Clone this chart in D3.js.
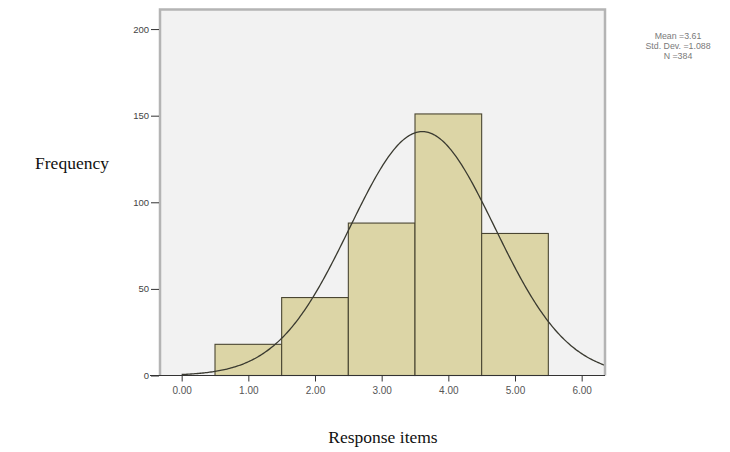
<!DOCTYPE html>
<html>
<head>
<meta charset="utf-8">
<script src="https://cdn.jsdelivr.net/npm/d3@7"></script>
<style>
  html, body { margin: 0; padding: 0; background: #ffffff; }
  svg { display: block; }
</style>
</head>
<body>
<svg id="chart" width="730" height="452"></svg>
<script>
// ---- data ----
const binCenters = [1, 2, 3, 4, 5];
const binWidth = 1;
const counts = [18, 45, 88, 151, 82];
const xTickValues = [0, 1, 2, 3, 4, 5, 6];
const xTickLabels = ["0.00", "1.00", "2.00", "3.00", "4.00", "5.00", "6.00"];
const yTickValues = [0, 50, 100, 150, 200];
const statLines = ["Mean =3.61", "Std. Dev. =1.088", "N =384"];
const meanValue = 3.61;
const sdValue = 1.088;
const nValue = 384;

// ---- layout ----
const svg = d3.select("#chart");
const pLeft = 160, pRight = 605, pTop = 9.5, pBottom = 375.5;

const x = d3.scaleLinear().domain([-0.325, 6.35]).range([pLeft, pRight]);
const y = d3.scaleLinear().domain([0, 211.3]).range([pBottom, pTop]);

// plot background
svg.append("rect")
  .attr("x", pLeft).attr("y", pTop)
  .attr("width", pRight - pLeft).attr("height", pBottom - pTop)
  .attr("fill", "#f2f2f2");

// bars
svg.append("g").selectAll("rect")
  .data(binCenters)
  .join("rect")
  .attr("x", d => x(d - binWidth / 2))
  .attr("y", (d, i) => y(counts[i]))
  .attr("width", d => x(d + binWidth / 2) - x(d - binWidth / 2))
  .attr("height", (d, i) => y(0) - y(counts[i]))
  .attr("fill", "#dcd5a6")
  .attr("stroke", "#4a4632")
  .attr("stroke-width", 1.1);

// fitted normal curve (from the stats shown in the legend)
svg.append("clipPath").attr("id", "clipPlot")
  .append("rect").attr("x", pLeft).attr("y", pTop)
  .attr("width", pRight - pLeft).attr("height", pBottom - pTop);
const curveXs = d3.range(0, 6.35 + 1e-9, 0.02);
const density = v => nValue * binWidth / (sdValue * Math.sqrt(2 * Math.PI)) *
  Math.exp(-((v - meanValue) ** 2) / (2 * sdValue * sdValue));
svg.append("path")
  .datum(curveXs)
  .attr("clip-path", "url(#clipPlot)")
  .attr("fill", "none")
  .attr("stroke", "#3a3a30")
  .attr("stroke-width", 1.3)
  .attr("d", d3.line().x(d => x(d)).y(d => y(density(d))));

// frame (top, left, right)
svg.append("path")
  .attr("d", `M${pLeft},${pBottom} L${pLeft},${pTop} L${pRight},${pTop} L${pRight},${pBottom}`)
  .attr("fill", "none")
  .attr("stroke", "#b4b4b4")
  .attr("stroke-width", 2.5);

// y axis ticks
const yAxis = d3.axisLeft(y).tickValues(yTickValues).tickSize(8).tickPadding(2)
  .tickFormat(d3.format("d"));
const gy = svg.append("g").attr("transform", `translate(${pLeft - 1},0)`).call(yAxis);
gy.select(".domain").remove();
gy.selectAll(".tick line").attr("stroke", "#333");
gy.selectAll(".tick text").attr("font-family", "Liberation Sans, Arial, sans-serif")
  .attr("font-size", 9.5).attr("fill", "#444");

// x axis
const xAxis = d3.axisBottom(x).tickValues(xTickValues).tickSize(6).tickPadding(5)
  .tickFormat((d, i) => xTickLabels[i]);
const gx = svg.append("g").attr("transform", `translate(0,${pBottom})`).call(xAxis);
gx.select(".domain").remove();
gx.selectAll(".tick line").attr("stroke", "#333");
gx.selectAll(".tick text").attr("font-family", "Liberation Sans, Arial, sans-serif")
  .attr("font-size", 10).attr("fill", "#555");
svg.append("line")
  .attr("x1", 150).attr("x2", pRight)
  .attr("y1", pBottom).attr("y2", pBottom)
  .attr("stroke", "#333").attr("stroke-width", 1.2);

// stats legend
svg.append("g").selectAll("text")
  .data(statLines)
  .join("text")
  .attr("x", 678)
  .attr("y", (d, i) => 39 + i * 10)
  .attr("text-anchor", "middle")
  .attr("font-family", "Liberation Sans, Arial, sans-serif")
  .attr("font-size", 8.8)
  .attr("fill", "#7a7a7a")
  .text(d => d);

// axis titles
svg.append("text")
  .attr("x", 72).attr("y", 169)
  .attr("text-anchor", "middle")
  .attr("font-family", "Liberation Serif, Times New Roman, serif")
  .attr("font-size", 17.5)
  .attr("fill", "#111")
  .text("Frequency");

svg.append("text")
  .attr("x", 383).attr("y", 443)
  .attr("text-anchor", "middle")
  .attr("font-family", "Liberation Serif, Times New Roman, serif")
  .attr("font-size", 17.5)
  .attr("fill", "#111")
  .text("Response items");
</script>
</body>
</html>
